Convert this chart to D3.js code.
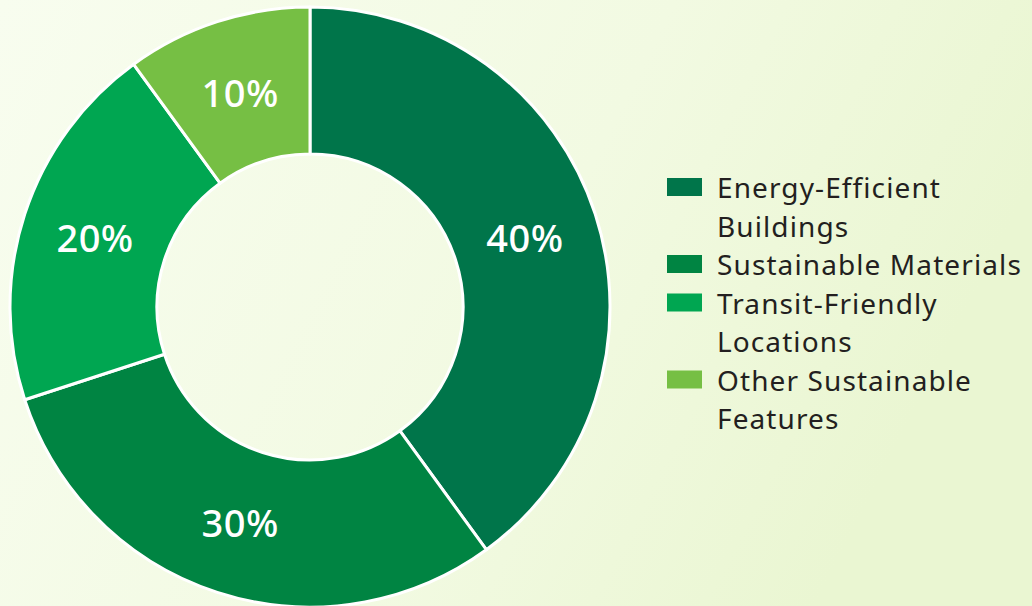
<!DOCTYPE html>
<html>
<head>
<meta charset="utf-8">
<script src="https://cdn.jsdelivr.net/npm/d3@7"></script>
<style>
  body { margin: 0; padding: 0; overflow: hidden; }
  svg { display: block; }
</style>
</head>
<body>
<script>
const categories = ['Energy-Efficient Buildings', 'Sustainable Materials', 'Transit-Friendly Locations', 'Other Sustainable Features'];
const values = [40, 30, 20, 10];
const colors = ['#00754a', '#008442', '#00a651', '#76bf44'];
// legend labels as they wrap in the picture
const legendLines = [['Energy-Efficient', 'Buildings'], ['Sustainable Materials'], ['Transit-Friendly', 'Locations'], ['Other Sustainable', 'Features']];

const w = 1032, h = 606;
const cx = 310, cy = 307;
const outerR = 300, innerR = 153;

const svg = d3.select('body').append('svg')
  .attr('width', w)
  .attr('height', h);

const defs = svg.append('defs');
const grad = defs.append('linearGradient')
  .attr('id', 'bg')
  .attr('x1', '0%').attr('y1', '0%')
  .attr('x2', '100%').attr('y2', '30%');
grad.append('stop').attr('offset', '0%').attr('stop-color', '#f8fdef');
grad.append('stop').attr('offset', '60%').attr('stop-color', '#f2fae2');
grad.append('stop').attr('offset', '100%').attr('stop-color', '#eaf6d2');

svg.append('rect')
  .attr('width', w).attr('height', h)
  .attr('fill', 'url(#bg)');

const pie = d3.pie().sort(null).value(d => d);
const arc = d3.arc().innerRadius(innerR).outerRadius(outerR);
const labelArc = d3.arc().innerRadius(226).outerRadius(226);

const g = svg.append('g').attr('transform', `translate(${cx},${cy})`);

const slices = g.selectAll('g.slice').data(pie(values)).enter()
  .append('g').attr('class', 'slice');

slices.append('path')
  .attr('d', arc)
  .attr('fill', (d, i) => colors[i])
  .attr('stroke', '#ffffff')
  .attr('stroke-width', 3)
  .attr('stroke-linejoin', 'round');

slices.append('text')
  .attr('transform', d => `translate(${labelArc.centroid(d)})`)
  .attr('text-anchor', 'middle')
  .attr('dominant-baseline', 'central')
  .attr('fill', '#ffffff')
  .style('font-family', '"Noto Sans", Lato, sans-serif')
  .style('font-size', '38px')
  .style('font-weight', 500)
  .style('letter-spacing', '0.5px')
  .text(d => d.data + '%');

// legend
const legend = svg.append('g').attr('transform', 'translate(667,0)');
const lineH = 38.5;
let row = 0;
legendLines.forEach((lines, i) => {
  const y0 = 187 + row * lineH;
  legend.append('rect')
    .attr('x', 0).attr('y', y0 - 9)
    .attr('width', 35).attr('height', 18)
    .attr('fill', colors[i]);
  lines.forEach((t, j) => {
    legend.append('text')
      .attr('x', 50)
      .attr('y', y0 + j * lineH)
      .attr('dominant-baseline', 'central')
      .attr('fill', '#231f20')
      .style('font-family', '"Noto Sans", Lato, sans-serif')
      .style('font-size', '28px')
      .style('letter-spacing', '1.1px')
      .text(t);
  });
  row += lines.length;
});
</script>
</body>
</html>
